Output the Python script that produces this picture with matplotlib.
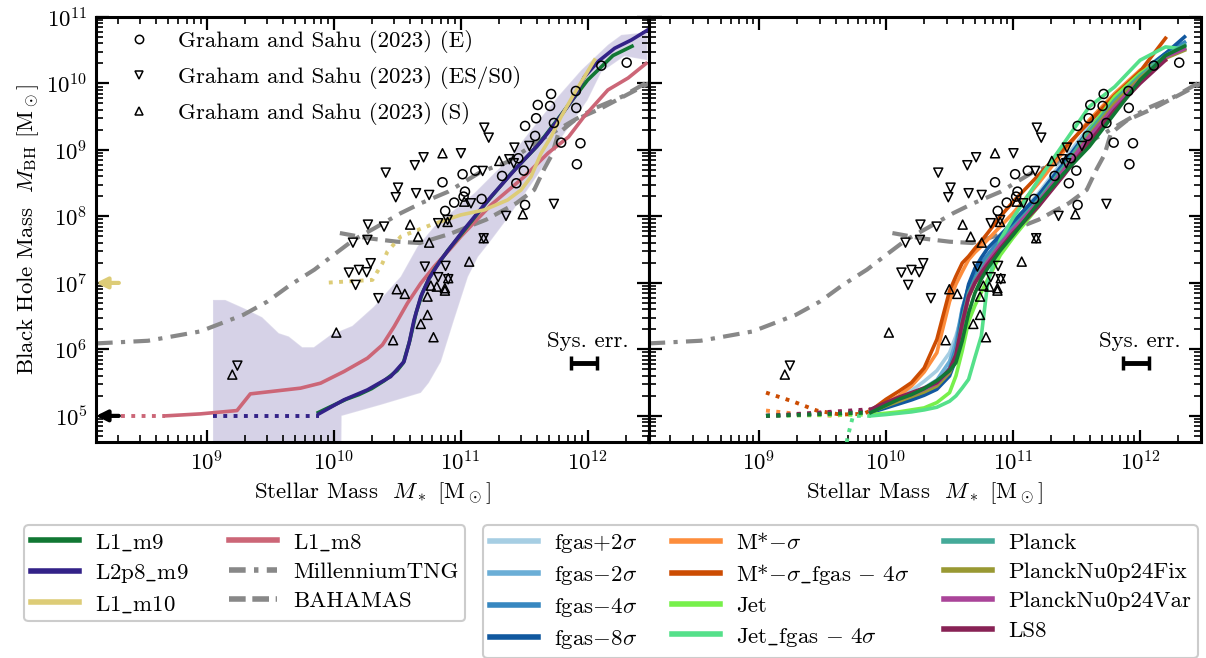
import numpy as np
import matplotlib
matplotlib.use("Agg")
import matplotlib.pyplot as plt
from matplotlib.lines import Line2D
from matplotlib.ticker import LogLocator, NullFormatter

plt.rcParams['font.family'] = 'cmr10'
plt.rcParams['mathtext.fontset'] = 'cm'
plt.rcParams['axes.formatter.use_mathtext'] = True
plt.rcParams['font.size'] = 16.5

# ---- observations, Graham and Sahu (2023): log10 M*, log10 M_BH
e_logm = [12.108, 12.308, 11.908, 11.713, 11.608, 11.705, 11.595, 11.508, 11.911,
          11.587, 11.735, 11.792, 11.944, 11.916, 11.455, 11.498, 11.327, 11.439,
          11.116, 11.016, 10.858, 11.035, 11.024, 10.950, 11.166, 10.879, 11.508]
e_logbh = [10.268, 10.313, 9.887, 9.842, 9.677, 9.662, 9.477, 9.361, 9.632,
           9.211, 9.406, 9.110, 9.101, 8.785, 8.875, 8.689, 8.609, 8.499,
           8.689, 8.635, 8.514, 8.373, 8.298, 8.208, 8.263, 8.083, 8.173]

es_logm = [11.187, 11.222, 11.424, 11.542, 11.384, 11.419, 11.174, 11.003, 11.082,
           11.735, 11.358, 10.898, 10.411, 10.640, 10.709, 10.508, 10.490, 10.650,
           10.753, 10.271, 10.398, 10.824, 10.153, 10.267, 10.293, 10.200, 10.121,
           10.261, 10.174, 10.353, 9.243, 10.719, 10.882, 10.824, 10.903, 11.182]
es_logbh = [9.335, 9.185, 9.035, 9.060, 8.860, 8.800, 8.684, 8.950, 8.198,
            8.188, 8.008, 7.947, 8.659, 8.770, 8.890, 8.433, 8.289, 8.349,
            8.323, 7.877, 7.847, 7.898, 7.606, 7.647, 7.296, 7.195, 7.155,
            7.161, 6.970, 6.770, 5.756, 7.245, 7.256, 7.086, 7.056, 7.672]

s_logm = [10.858, 11.305, 11.029, 11.490, 10.603, 10.898, 10.666, 10.753, 10.498,
          10.561, 10.022, 10.469, 9.203, 10.813, 10.766, 10.740, 10.740, 10.687,
          10.787, 11.068, 10.903, 10.877, 10.877, 11.182]
s_logbh = [8.950, 8.835, 8.222, 8.033, 7.877, 7.917, 7.696, 7.606, 6.905,
           6.835, 6.253, 6.138, 5.621, 6.944, 6.959, 6.794, 6.519, 6.383,
           6.183, 7.320, 7.071, 6.920, 6.884, 7.672]

# ---- left panel runs
band_up_x = [9.051, 9.148, 9.293, 9.438, 9.569, 9.648, 9.754, 9.845, 9.977, 10.148,
             10.318, 10.529, 10.661, 10.792, 11.108, 11.371, 11.555, 11.766, 11.95,
             12.16, 12.266, 12.47]
band_up_y = [6.744, 6.744, 6.62, 6.484, 6.244, 6.194, 6.033, 6.033, 6.218, 6.353,
             6.644, 7.095, 7.546, 7.847, 8.349, 8.85, 9.30, 9.80, 10.20,
             10.58, 10.73, 10.77]
band_lo_x = [9.051, 10.06, 10.064, 10.37, 10.687, 10.75, 10.845, 10.948, 11.058,
             11.137, 11.24, 11.358, 11.6, 11.8, 12.0, 12.108, 12.29, 12.47]
band_lo_y = [4.3, 4.3, 5.0, 5.165, 5.346, 5.496, 5.812, 6.44, 7.09,
             7.39, 7.64, 7.94, 8.6, 9.2, 9.75, 10.17, 10.41, 10.35]

navy_dot_x = [9.053, 9.884]
navy_dot_y = [5.0, 5.0]
navy_x = [9.884, 10.082, 10.267, 10.450, 10.555, 10.595, 10.634, 10.687, 10.753, 10.845,
          10.924, 11.029, 11.240, 11.450, 11.634, 11.766, 11.897, 11.976, 12.082,
          12.213, 12.345, 12.47]
navy_y = [5.03, 5.241, 5.391, 5.591, 5.817, 6.093, 6.444, 6.794, 7.071, 7.346,
          7.546, 7.808, 8.298, 8.749, 9.125, 9.451, 9.802, 10.102, 10.328,
          10.529, 10.654, 10.80]

rose_dot_x = [8.324, 8.675]
rose_dot_y = [5.0, 5.0]
rose_x = [8.675, 8.951, 9.240, 9.345, 9.740, 9.898, 10.082, 10.267, 10.385, 10.477,
          10.582, 10.687, 10.792, 10.924, 11.003, 11.24, 11.5, 11.69, 11.85, 11.97,
          12.16, 12.32, 12.46]
rose_y = [5.0, 5.03, 5.08, 5.331, 5.417, 5.492, 5.667, 5.868, 6.068, 6.343,
          6.695, 6.995, 7.245, 7.522, 7.70, 8.173, 8.594, 8.955, 9.195, 9.496,
          9.902, 10.083, 10.30]

sand_dot_x = [9.963, 10.306, 10.385, 10.424, 10.529, 10.766, 10.845]
sand_dot_y = [7.005, 7.045, 7.296, 7.471, 7.696, 7.872, 7.922]
sand_x = [10.845, 11.003, 11.187, 11.371, 11.476, 11.555, 11.634, 11.713, 11.792,
          11.897, 11.976, 12.055]
sand_y = [7.922, 8.023, 8.098, 8.248, 8.398, 8.598, 8.950, 9.2, 9.501,
          9.853, 10.102, 10.353]

tng_x = [8.13, 8.54, 8.95, 9.29, 9.48, 9.66, 9.85, 10.0, 10.16, 10.32, 10.53, 10.69,
         10.9, 11.16, 11.37, 11.63, 11.85, 12.06, 12.27, 12.48]
tng_y = [6.09, 6.13, 6.27, 6.52, 6.72, 6.97, 7.2, 7.42, 7.65, 7.82, 8.05, 8.2,
         8.37, 8.67, 8.82, 9.15, 9.4, 9.63, 9.8, 10.03]

bah_x = [10.05, 10.28, 10.5, 10.68, 10.92, 11.2, 11.44, 11.58, 11.66, 11.72, 11.77,
         11.9, 12.1, 12.3, 12.48]
bah_y = [7.75, 7.67, 7.62, 7.6, 7.74, 7.95, 8.2, 8.4, 8.72, 8.93, 9.25,
         9.45, 9.62, 9.82, 10.0]

# ---- right panel runs (shared mass grid)
rx = [9.88, 10.0, 10.1, 10.2, 10.3, 10.4, 10.5, 10.55, 10.6, 10.65, 10.7, 10.75,
      10.8, 10.9, 11.0, 11.2, 11.4, 11.6, 11.8, 12.0, 12.2, 12.35]
nan = np.nan
y_l1m9 = [5.05, 5.16, 5.25, 5.32, 5.41, 5.53, 5.68, 5.80, 6.13, 6.55, 6.85, 7.06,
          7.22, 7.49, 7.72, 8.2, 8.65, 9.05, 9.55, 10.05, 10.42, 10.56]
y_fp2 = [5.08, 5.17, 5.26, 5.38, 5.52, 5.68, 5.95, 6.2, 6.53, 6.82, 7.08, 7.25,
         7.4, 7.65, 7.9, 8.35, 8.85, 9.35, 9.8, 10.18, 10.45, 10.6]
y_fm2 = [5.07, 5.17, 5.25, 5.33, 5.42, 5.54, 5.82, 6.12, 6.62, 6.93, 7.13, 7.28,
         7.42, 7.66, 7.88, 8.3, 8.8, 9.32, 9.78, 10.15, 10.45, 10.58]
y_fm4 = [5.06, 5.15, 5.22, 5.28, 5.36, 5.46, 5.72, 6.02, 6.6, 6.95, 7.15, 7.3,
         7.42, 7.66, 7.88, 8.3, 8.78, 9.3, 9.75, 10.15, 10.45, 10.62]
y_fm8 = [5.05, 5.12, 5.18, 5.24, 5.31, 5.40, 5.60, 5.85, 6.55, 6.98, 7.22, 7.38,
         7.52, 7.72, 7.92, 8.32, 8.8, 9.3, 9.75, 10.15, 10.45, 10.7]
y_ms = [5.09, 5.2, 5.3, 5.45, 5.66, 5.95, 6.72, 6.98, 7.17, 7.35, 7.46, 7.55,
        7.65, 7.85, 8.05, 8.5, 8.98, 9.45, 9.85, 10.2, 10.35, nan]
y_msf = [5.08, 5.25, 5.37, 5.5, 5.72, 6.15, 6.88, 7.1, 7.3, 7.4, 7.52, 7.63,
         7.75, 8.0, 8.22, 8.62, 9.02, 9.42, 9.82, 10.18, 10.68, nan]
y_jet = [5.02, 5.04, 5.06, 5.09, 5.12, 5.2, 5.35, 5.6, 5.98, 6.42, 6.66, 6.86,
         7.05, 7.42, 7.68, 8.15, 8.7, 9.3, 9.8, 10.15, 10.4, 10.52]
y_jetf = [5.0, 5.02, 5.04, 5.06, 5.09, 5.13, 5.22, 5.3, 5.42, 5.55, 5.88, 6.2,
          7.0, 7.65, 7.98, 8.55, 9.1, 9.65, 9.95, 10.35, 10.55, 10.52]
y_planck = [5.06, 5.16, 5.24, 5.31, 5.39, 5.48, 5.7, 5.95, 6.45, 6.85, 7.05, 7.2,
            7.35, 7.6, 7.82, 8.25, 8.75, 9.28, 9.75, 10.12, 10.42, 10.58]
y_fix = [5.06, 5.15, 5.22, 5.29, 5.36, 5.45, 5.65, 5.88, 6.35, 6.78, 7.0, 7.15,
         7.3, 7.55, 7.78, 8.2, 8.7, 9.22, 9.7, 10.08, 10.38, 10.5]
y_var = [5.07, 5.17, 5.25, 5.32, 5.4, 5.49, 5.68, 5.9, 6.38, 6.8, 7.02, 7.17,
         7.32, 7.58, 7.8, 8.22, 8.7, 9.2, 9.65, 10.05, 10.4, 10.52]
y_ls8 = [5.1, 5.2, 5.28, 5.35, 5.42, 5.5, 5.7, 5.92, 6.4, 6.8, 7.0, 7.15,
         7.28, 7.52, 7.75, 8.15, 8.62, 9.12, 9.6, 10.0, 10.35, nan]

seed_dot_x = [9.055, 9.88]
msf_dot_x = [9.055, 9.27, 9.455, 9.64, 9.82, 9.88]
msf_dot_y = [5.35, 5.215, 5.08, 5.02, 5.03, 5.08]
ms_dot_x = [9.055, 9.3, 9.6, 9.88]
ms_dot_y = [5.08, 5.03, 5.0, 5.09]
jetf_dot_x = [9.66, 9.70, 9.74, 9.88]
jetf_dot_y = [4.3, 4.7, 5.0, 5.0]

sys_logx, sys_dex, sys_logy = 11.97, 0.103, 5.80

c_green, c_navy, c_sand, c_rose = '#117733', '#332288', '#DDCC77', '#CC6677'
c_grey = '#888888'

# label, values, colour, dotted seed part (None: flat seed line)
right_runs = [
    (r'fgas$+2\sigma$', y_fp2, '#a6cee3', None),
    (r'fgas$-2\sigma$', y_fm2, '#6baed6', None),
    (r'fgas$-4\sigma$', y_fm4, '#3787c0', None),
    (r'fgas$-8\sigma$', y_fm8, '#11589f', None),
    (r'M*$-\sigma$', y_ms, '#fd8d3c', (ms_dot_x, ms_dot_y)),
    (r'M*$-\sigma\_{\rm fgas}\,-\,4\sigma$', y_msf, '#cc4c02', (msf_dot_x, msf_dot_y)),
    ('Jet', y_jet, '#77f04b', None),
    (r'Jet$\_{\rm fgas}\,-\,4\sigma$', y_jetf, '#55e08a', (jetf_dot_x, jetf_dot_y)),
    ('Planck', y_planck, '#44aa99', None),
    ('PlanckNu0p24Fix', y_fix, '#999933', None),
    ('PlanckNu0p24Var', y_var, '#aa4499', None),
    ('LS8', y_ls8, '#882255', None),
]


def p(a):
    return 10 ** np.asarray(a, dtype=float)


LW = 2.6
DOT = dict(ls=':', lw=2.8)

fig, (ax1, ax2) = plt.subplots(1, 2, figsize=(12.06, 6.58), dpi=100, sharey=True)
fig.subplots_adjust(left=0.0796, right=0.9959, top=0.9742, bottom=0.3283, wspace=0)


def add_common(ax):
    ax.plot(p(tng_x), p(tng_y), color=c_grey, lw=3, dashes=(4, 2, 1, 2), zorder=2)
    ax.plot(p(bah_x), p(bah_y), color=c_grey, lw=3, dashes=(3.7, 1.8), zorder=2)
    kw = dict(facecolors='none', edgecolors='k', s=42, linewidths=1.1, zorder=6)
    ax.scatter(p(e_logm), p(e_logbh), marker='o', **kw)
    ax.scatter(p(es_logm), p(es_logbh), marker='v', **kw)
    ax.scatter(p(s_logm), p(s_logbh), marker='^', **kw)
    x0 = 10 ** sys_logx
    ax.errorbar([x0], [10 ** sys_logy],
                xerr=[[x0 - 10 ** (sys_logx - sys_dex)], [10 ** (sys_logx + sys_dex) - x0]],
                fmt='none', ecolor='k', elinewidth=3.5, capsize=5, capthick=2.5, zorder=6)
    ax.text(10 ** 12.0, 10 ** 5.97, 'Sys. err.', ha='center', va='bottom')

    ax.set_xscale('log')
    ax.set_yscale('log')
    ax.set_xlim(10 ** 8.13, 10 ** 12.48)
    ax.set_ylim(4.05e4, 1e11)
    ax.xaxis.set_major_locator(LogLocator(base=10, numticks=20))
    ax.xaxis.set_minor_locator(LogLocator(base=10, subs=np.arange(2, 10), numticks=100))
    ax.yaxis.set_major_locator(LogLocator(base=10, numticks=20))
    ax.yaxis.set_minor_locator(LogLocator(base=10, subs=np.arange(2, 10), numticks=100))
    ax.xaxis.set_minor_formatter(NullFormatter())
    ax.yaxis.set_minor_formatter(NullFormatter())
    ax.tick_params(which='both', direction='in', top=True, right=True)
    ax.tick_params(which='major', length=9, width=1.6, pad=6)
    ax.tick_params(which='minor', length=5, width=1.2)
    for sp in ax.spines.values():
        sp.set_linewidth(2.2)
    ax.set_xlabel(r'Stellar Mass  $M_*$ [M$_\odot$]', labelpad=4)


# ---- left panel
ax1.fill(np.concatenate([p(band_up_x), p(band_lo_x[::-1])]),
         np.concatenate([p(band_up_y), p(band_lo_y[::-1])]),
         facecolor=c_navy, alpha=0.2, edgecolor='white', lw=1, zorder=1)
add_common(ax1)
ax1.plot(p(rose_dot_x), p(rose_dot_y), color=c_rose, **DOT, zorder=3)
ax1.plot(p(rose_x), p(rose_y), color=c_rose, lw=LW, zorder=3)
ax1.plot(p(sand_dot_x), p(sand_dot_y), color=c_sand, **DOT, zorder=3)
ax1.plot(p(rx), p(y_l1m9), color=c_green, lw=LW, zorder=3)
ax1.plot(p(navy_dot_x), p(navy_dot_y), color=c_navy, **DOT, zorder=4)
ax1.plot(p(navy_x), p(navy_y), color=c_navy, lw=LW, zorder=4)
ax1.plot(p(sand_x), p(sand_y), color=c_sand, lw=LW, zorder=4)
for ly, col in [(5.0, 'k'), (7.0, c_sand)]:
    ax1.annotate('', xy=(10 ** 8.13, 10 ** ly), xytext=(10 ** 8.31, 10 ** ly),
                 arrowprops=dict(arrowstyle='-|>', color=col, lw=3,
                                 mutation_scale=16, shrinkA=0, shrinkB=0), zorder=7)
ax1.set_ylabel(r'Black Hole Mass  $M_{\rm BH}$ [M$_\odot$]', labelpad=4)

obs_handles = [
    Line2D([], [], ls='none', marker='o', mfc='none', mec='k', ms=6, mew=1.1,
           label='Graham and Sahu (2023) (E)'),
    Line2D([], [], ls='none', marker='v', mfc='none', mec='k', ms=6, mew=1.1,
           label='Graham and Sahu (2023) (ES/S0)'),
    Line2D([], [], ls='none', marker='^', mfc='none', mec='k', ms=6, mew=1.1,
           label='Graham and Sahu (2023) (S)'),
]
ax1.legend(handles=obs_handles, loc='upper left', bbox_to_anchor=(0.04, 0.99),
           frameon=False, handlelength=1.0, handletextpad=1.2, labelspacing=0.56,
           borderaxespad=0)

# ---- right panel
add_common(ax2)
ax2.tick_params(labelleft=False)
right_handles = []
for lab, yy, col, seed in right_runs:
    if seed is None:
        ax2.plot(p(seed_dot_x), p([5.0, yy[0]]), color=col, **DOT, zorder=3)
    else:
        ax2.plot(p(seed[0]), p(seed[1]), color=col, **DOT, zorder=3)
ax2.plot(p(seed_dot_x), p([5.0, y_l1m9[0]]), color=c_green, **DOT, zorder=3)
for lab, yy, col, seed in right_runs:
    h, = ax2.plot(p(rx), p(yy), color=col, lw=LW, zorder=3, label=lab)
    right_handles.append(h)
ax2.plot(p(rx), p(y_l1m9), color=c_green, lw=LW, zorder=3)

# ---- legends below the panels
left_handles = [
    Line2D([], [], color=c_green, lw=4, label=r'L1$\_$m9'),
    Line2D([], [], color=c_navy, lw=4, label=r'L2p8$\_$m9'),
    Line2D([], [], color=c_sand, lw=4, label=r'L1$\_$m10'),
    Line2D([], [], color=c_rose, lw=4, label=r'L1$\_$m8'),
    Line2D([], [], color=c_grey, lw=4, dashes=(3, 1.5, 0.8, 1.5), label='MillenniumTNG'),
    Line2D([], [], color=c_grey, lw=4, dashes=(3, 1.2), label='BAHAMAS'),
]
leg_kw = dict(loc='upper left', frameon=True, fancybox=True, edgecolor='#cccccc',
              framealpha=1, handlelength=2.1, handletextpad=0.7,
              labelspacing=0.4, borderpad=0.3, borderaxespad=0)
lg1 = fig.legend(handles=left_handles, ncol=2, bbox_to_anchor=(0.02, 0.202),
                 columnspacing=1.75, **leg_kw)
lg1.get_frame().set_linewidth(1.5)
rh = [Line2D([], [], color=h.get_color(), lw=4, label=h.get_label()) for h in right_handles]
lg2 = fig.legend(handles=rh, ncol=3, bbox_to_anchor=(0.4005, 0.202),
                 columnspacing=1.5, **leg_kw)
lg2.get_frame().set_linewidth(1.5)

fig.savefig('out.png', dpi=100)
